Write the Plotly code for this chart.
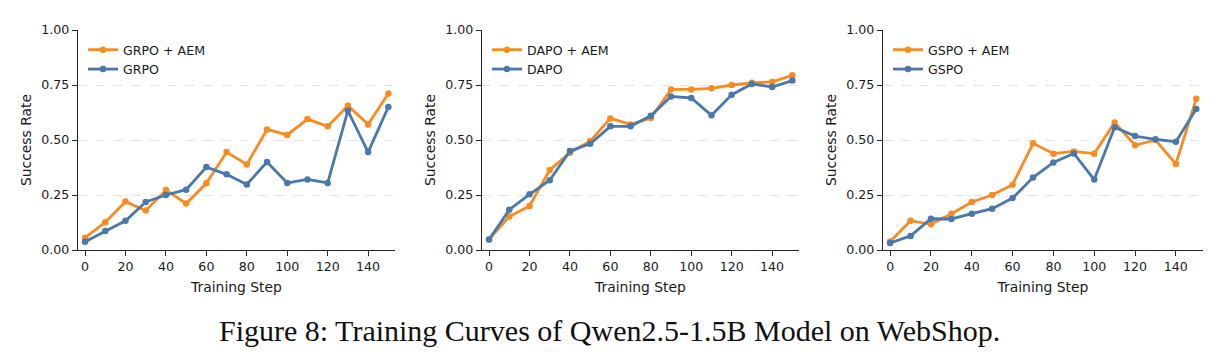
import plotly.graph_objects as go

steps = [0, 10, 20, 30, 40, 50, 60, 70, 80, 90, 100, 110, 120, 130, 140, 150]

grpo_aem = [0.056, 0.126, 0.220, 0.179, 0.273, 0.211, 0.303, 0.445, 0.389, 0.548, 0.523, 0.595, 0.562, 0.656, 0.571, 0.711]
grpo = [0.038, 0.086, 0.133, 0.218, 0.250, 0.274, 0.377, 0.344, 0.298, 0.400, 0.305, 0.321, 0.305, 0.633, 0.445, 0.650]

dapo_aem = [0.048, 0.152, 0.200, 0.364, 0.442, 0.495, 0.598, 0.571, 0.600, 0.730, 0.730, 0.735, 0.750, 0.760, 0.764, 0.794]
dapo = [0.048, 0.183, 0.253, 0.317, 0.450, 0.483, 0.562, 0.562, 0.610, 0.698, 0.691, 0.612, 0.706, 0.755, 0.741, 0.770]

gspo_aem = [0.039, 0.133, 0.117, 0.165, 0.218, 0.250, 0.297, 0.485, 0.438, 0.448, 0.438, 0.579, 0.476, 0.500, 0.391, 0.688]
gspo = [0.032, 0.064, 0.142, 0.141, 0.165, 0.188, 0.236, 0.329, 0.398, 0.439, 0.320, 0.558, 0.518, 0.503, 0.492, 0.641]

panels = [
    ("GRPO + AEM", grpo_aem, "GRPO", grpo),
    ("DAPO + AEM", dapo_aem, "DAPO", dapo),
    ("GSPO + AEM", gspo_aem, "GSPO", gspo),
]

caption = "Figure 8: Training Curves of Qwen2.5-1.5B Model on WebShop."

ORANGE = "#F98B22"
BLUE = "#4A78AA"
AXC = "#262626"

W, H = 1225, 363
# pixel layout of each plot area (left, right)
xdom_px = [(78, 395), (482, 799), (883, 1203)]
ytop, ybot = 30, 250
xranges = [(-3.5, 153.3), (-3.5, 153.3), (-3.5, 153.3)]

fig = go.Figure()
legend_names = ["legend", "legend2", "legend3"]

for i, (n1, v1, n2, v2) in enumerate(panels):
    ax = "" if i == 0 else str(i + 1)
    fig.add_trace(go.Scatter(
        x=steps, y=v1, name=n1, mode="lines+markers",
        line=dict(color=ORANGE, width=2.8), marker=dict(color=ORANGE, size=6.5),
        xaxis="x" + ax, yaxis="y" + ax, legend=legend_names[i], cliponaxis=False))
    fig.add_trace(go.Scatter(
        x=steps, y=v2, name=n2, mode="lines+markers",
        line=dict(color=BLUE, width=2.8), marker=dict(color=BLUE, size=6.5),
        xaxis="x" + ax, yaxis="y" + ax, legend=legend_names[i], cliponaxis=False))

layout = dict(
    width=W, height=H,
    margin=dict(l=0, r=0, t=0, b=0, autoexpand=False),
    paper_bgcolor="white", plot_bgcolor="white",
    font=dict(family="DejaVu Sans", color="#1a1a1a", size=12.6),
)

for i in range(3):
    ax = "" if i == 0 else str(i + 1)
    l, r = xdom_px[i]
    layout["xaxis" + ax] = dict(
        domain=[l / W, r / W], anchor="y" + ax, range=list(xranges[i]),
        automargin=False,
        tickmode="array", tickvals=[0, 20, 40, 60, 80, 100, 120, 140],
        showline=True, linecolor=AXC, linewidth=1.2, mirror=False,
        ticks="outside", ticklen=5, tickwidth=1.1, tickcolor=AXC,
        showgrid=False, zeroline=False,
        tickfont=dict(size=12.6, family="DejaVu Sans", color="#1a1a1a"),
        title=dict(text="Training Step", font=dict(size=13.9, family="DejaVu Sans", color="#1a1a1a"), standoff=9),
    )
    layout["yaxis" + ax] = dict(
        domain=[1 - ybot / H, 1 - ytop / H], anchor="x" + ax, range=[0, 1],
        automargin=False,
        tickmode="array", tickvals=[0, 0.25, 0.5, 0.75, 1.0],
        ticktext=["0.00", "0.25", "0.50", "0.75", "1.00"],
        showline=True, linecolor=AXC, linewidth=1.2,
        ticks="outside", ticklen=5, tickwidth=1.1, tickcolor=AXC,
        showgrid=True, gridcolor="#e3e3e3", griddash="dash", gridwidth=0.8,
        zeroline=False,
        tickfont=dict(size=12.6, family="DejaVu Sans", color="#1a1a1a"),
        title=dict(text="Success Rate", font=dict(size=13.9, family="DejaVu Sans", color="#1a1a1a"), standoff=6),
    )
    layout[legend_names[i]] = dict(
        x=(l + 5) / W, y=1 - 35 / H, xanchor="left", yanchor="top",
        bgcolor="rgba(255,255,255,0)", borderwidth=0,
        font=dict(size=12.6, family="DejaVu Sans", color="#1a1a1a"),
        tracegroupgap=0, itemwidth=30,
    )

layout["annotations"] = [dict(
    text=caption, xref="paper", yref="paper", x=609 / W, y=1 - 330 / H,
    xanchor="center", yanchor="middle", showarrow=False,
    font=dict(family="Liberation Serif", size=30, color="#111111"),
)]

fig.update_layout(**layout)
fig.write_html("out.html")
